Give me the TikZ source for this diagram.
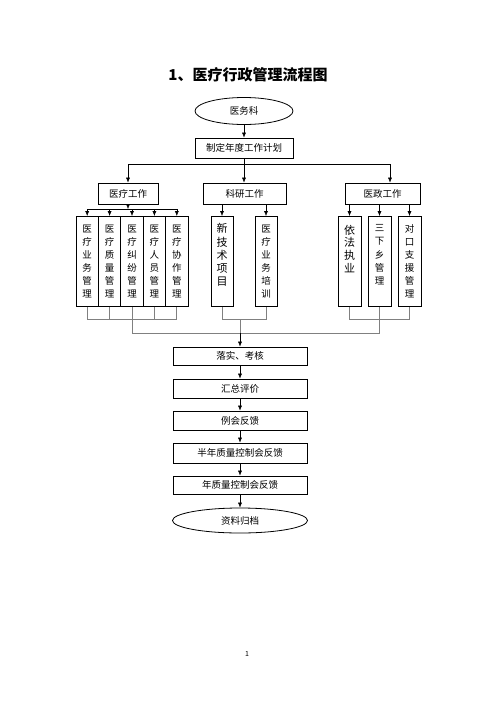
\documentclass[tikz,border=0pt]{standalone}
\usepackage{fontspec}
\setmainfont{Noto Sans CJK SC}
\usetikzlibrary{positioning,arrows.meta,shapes.geometric}

\begin{document}
\begin{tikzpicture}[x=1pt, y=-1pt, >={Latex[length=5pt,width=4pt]},
  box/.style={draw, line width=0.8pt, inner sep=0pt, font=\fontsize{9.5}{12}\selectfont},
  oval/.style={draw, ellipse, line width=0.8pt, inner sep=0pt, font=\fontsize{9.5}{12}\selectfont},
  col/.style={draw, line width=0.8pt, inner sep=0pt, anchor=north, minimum width=22.4pt, minimum height=90pt, align=center, font=\fontsize{9.5}{13}\selectfont},
  link/.style={gray, line width=0.7pt}]

\useasboundingbox (0,0) rectangle (496,702);

% Title
\node[font=\fontsize{15}{18}\selectfont\bfseries] (title) at (248,75) {1、医疗行政管理流程图};

% Top of the chart
\node[oval, minimum width=98pt, minimum height=27pt] (yws) at (244,111) {医务科};
\node[box, minimum width=98pt, minimum height=20pt] (plan) at (244,148) {制定年度工作计划};

% Three branches
\node[box, minimum width=60pt, minimum height=21pt] (ylgz) at (128,193.5) {医疗工作};
\node[box, minimum width=83pt, minimum height=21pt] (kygz) at (244.5,193.5) {科研工作};
\node[box, minimum width=75pt, minimum height=21pt] (yzgz) at (382.5,193.5) {医政工作};

% Columns under each branch
\node[col] (yl1) at (87.2,216) {医\\疗\\业\\务\\管\\理};
\node[col] (yl2) at (109.6,216) {医\\疗\\质\\量\\管\\理};
\node[col] (yl3) at (132,216) {医\\疗\\纠\\纷\\管\\理};
\node[col] (yl4) at (154.4,216) {医\\疗\\人\\员\\管\\理};
\node[col] (yl5) at (176.8,216) {医\\疗\\协\\作\\管\\理};

\node[col, minimum width=22pt, font=\fontsize{11}{13.3}\selectfont] (ky1) at (222,216) {新\\技\\术\\项\\目\\\mbox{}};
\node[col, minimum width=22pt] (ky2) at (266,216) {医\\疗\\业\\务\\培\\训};

\node[col, minimum width=23pt, font=\fontsize{11}{12.8}\selectfont] (yz1) at (349.5,216) {依\\法\\执\\业\\\mbox{}\\\mbox{}};
\node[col, minimum width=23pt, font=\fontsize{9.5}{13.3}\selectfont] (yz2) at (379.5,216) {三\\下\\乡\\管\\理\\\mbox{}};
\node[col, minimum width=23pt] (yz3) at (409.5,216) {对\\口\\支\\援\\管\\理};

% Steps after the columns
\node[box, minimum width=134pt, minimum height=18pt] (s1) at (240,356) {落实、考核};
\node[box, minimum width=134pt, minimum height=19pt] (s2) at (240,388.5) {汇总评价};
\node[box, minimum width=134pt, minimum height=19pt] (s3) at (240,420.5) {例会反馈};
\node[box, minimum width=134pt, minimum height=20pt] (s4) at (240,453) {半年质量控制会反馈};
\node[box, minimum width=134pt, minimum height=18pt] (s5) at (240,485) {年质量控制会反馈};
\node[oval, minimum width=135pt, minimum height=25pt] (zlgd) at (240,520.5) {资料归档};

% Page number
\node[font=\fontsize{7}{8}\selectfont] (pg) at (247,654) {1};

% Plan to branches
\coordinate (tl) at (128,164);
\coordinate (tr) at (390,164);
\draw[->] (yws) -- (plan);
\draw (tl) -- (tr);
\draw[->] (plan.south) -- (plan.south |- kygz.north);
\draw[->] (tl) -- (ylgz);
\draw[->] (tr) -- (tr |- yzgz.north);

% Branches to columns
\coordinate (mbus) at (132,209);
\draw[->] (ylgz.south) -- (ylgz.south |- mbus);
\draw (yl1.north |- mbus) -- (yl5.north |- mbus);
\foreach \n in {yl1,yl2,yl3,yl4,yl5}
  \draw[->] (\n.north |- mbus) -- (\n.north);
\foreach \n in {ky1,ky2}
  \draw[->] (\n.north |- kygz.south) -- (\n.north);
\foreach \n in {yz1,yz2,yz3}
  \draw[->] (\n.north |- yzgz.south) -- (\n.north);

% Columns joined below
\coordinate (jn) at (240,319);
\coordinate (gbus) at (240,333);
\draw[link] (yl1.south) -- (yl1.south |- jn) -- (yl5.south |- jn) -- (yl5.south);
\foreach \n in {yl2,yl3,yl4}
  \draw[link] (\n.south) -- (\n.south |- jn);
\draw[link] (ky1.south) -- (ky1.south |- jn) -- (ky2.south |- jn) -- (ky2.south);
\draw[link] (yz1.south) -- (yz1.south |- jn) -- (yz3.south |- jn) -- (yz3.south);
\draw[link] (yz2.south) -- (yz2.south |- jn);
\draw[link] (yl3.south |- jn) -- (yl3.south |- gbus) -- (yz2.south |- gbus) -- (yz2.south |- jn);
\draw[link] (jn) -- (gbus);
\draw[->] (gbus) -- (s1);

% Steps
\draw[->] (s1) -- (s2);
\draw[->] (s2) -- (s3);
\draw[->] (s3) -- (s4);
\draw[->] (s4) -- (s5);
\draw[->] (s5) -- (zlgd);

\end{tikzpicture}
\end{document}
